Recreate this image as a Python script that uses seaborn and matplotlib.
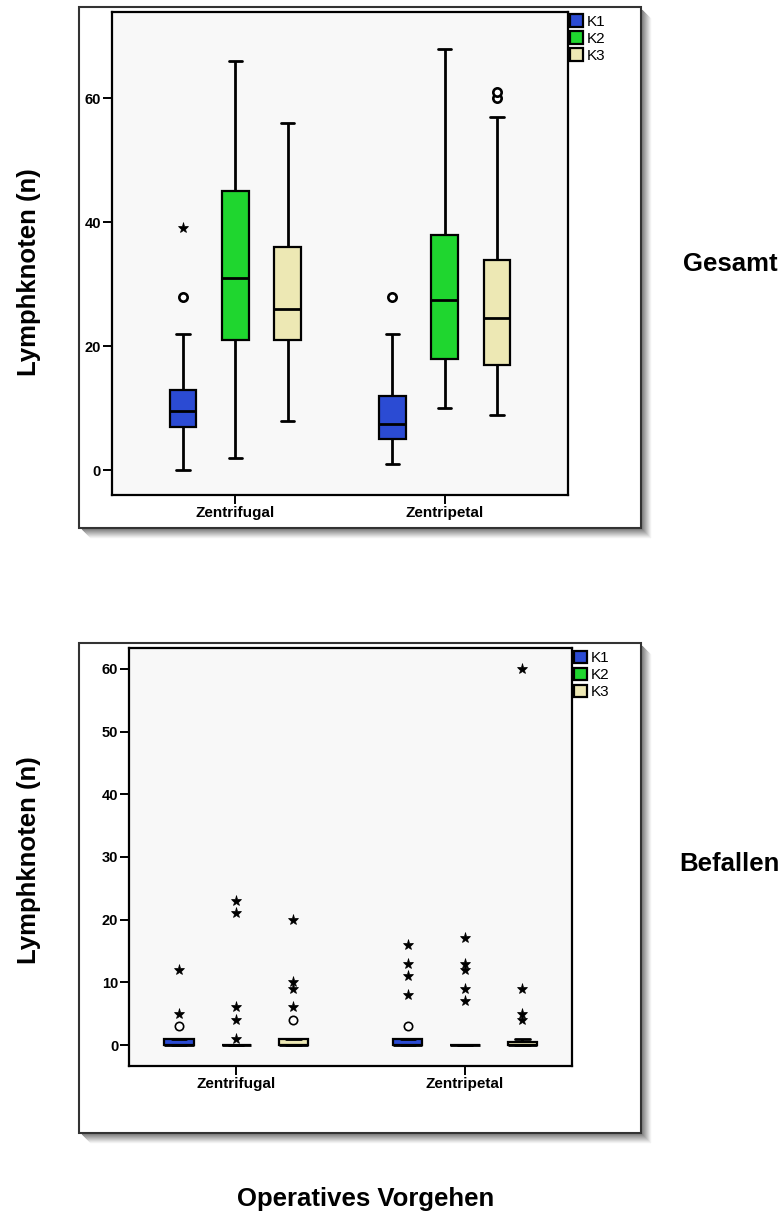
import numpy as np
import pandas as pd
import seaborn as sns
import matplotlib.pyplot as plt
from matplotlib.lines import Line2D
from matplotlib.patches import Rectangle

# -----------------------------------------------------------------------------
# Daten (Reihenfolge: Zentrifugal K1, K2, K3, Zentripetal K1, K2, K3)
# -----------------------------------------------------------------------------
gruppen = ['Zentrifugal', 'Zentripetal']
klassen = ['K1', 'K2', 'K3']
farben = ['#2b4bd3', '#1fd62f', '#ede8b4']

# Gesamt: Minimum, Q1, Median, Q3, Maximum (Whisker-Enden)
ges_min = [0, 2, 8, 1, 10, 9]
ges_q1 = [7, 21, 21, 5, 18, 17]
ges_med = [9.5, 31, 26, 7.5, 27.5, 24.5]
ges_q3 = [13, 45, 36, 12, 38, 34]
ges_max = [22, 66, 56, 22, 68, 57]
ges_kreis = [('Zentrifugal', 'K1', 28), ('Zentripetal', 'K1', 28),
             ('Zentripetal', 'K3', 60), ('Zentripetal', 'K3', 61)]
ges_stern = [('Zentrifugal', 'K1', 39)]

# Befallen
bef_min = [0, 0, 0, 0, 0, 0]
bef_q1 = [0, 0, 0, 0, 0, 0]
bef_med = [0, 0, 0, 0, 0, 0]
bef_q3 = [1, 0, 1, 1, 0, 0.5]
bef_max = [1, 0, 1, 1, 0, 1]
bef_kreis = [('Zentrifugal', 'K1', 3), ('Zentrifugal', 'K3', 4),
             ('Zentripetal', 'K1', 3)]
bef_stern = [('Zentrifugal', 'K1', 5), ('Zentrifugal', 'K1', 12),
             ('Zentrifugal', 'K2', 1), ('Zentrifugal', 'K2', 4), ('Zentrifugal', 'K2', 6),
             ('Zentrifugal', 'K2', 21), ('Zentrifugal', 'K2', 23),
             ('Zentrifugal', 'K3', 6), ('Zentrifugal', 'K3', 9), ('Zentrifugal', 'K3', 10),
             ('Zentrifugal', 'K3', 20),
             ('Zentripetal', 'K1', 8), ('Zentripetal', 'K1', 11), ('Zentripetal', 'K1', 13),
             ('Zentripetal', 'K1', 16),
             ('Zentripetal', 'K2', 7), ('Zentripetal', 'K2', 9), ('Zentripetal', 'K2', 12),
             ('Zentripetal', 'K2', 13), ('Zentripetal', 'K2', 17),
             ('Zentripetal', 'K3', 4), ('Zentripetal', 'K3', 5), ('Zentripetal', 'K3', 9),
             ('Zentripetal', 'K3', 60)]


def lange_tabelle(mins, q1s, meds, q3s, maxs):
    zeilen = []
    i = 0
    for g in gruppen:
        for k in klassen:
            for v in (mins[i], q1s[i], meds[i], q3s[i], maxs[i]):
                zeilen.append({'Gruppe': g, 'Klasse': k, 'Wert': v})
            i += 1
    return pd.DataFrame(zeilen)


# -----------------------------------------------------------------------------
# Stil
# -----------------------------------------------------------------------------
sns.set_theme(style='white')
plt.rcParams['font.family'] = ['Liberation Sans', 'DejaVu Sans']
plt.rcParams['font.weight'] = 'bold'
plt.rcParams['text.color'] = 'black'
plt.rcParams['axes.labelcolor'] = 'black'
plt.rcParams['xtick.color'] = 'black'
plt.rcParams['ytick.color'] = 'black'

W, H = 784, 1213
fig = plt.figure(figsize=(W / 100, H / 100), dpi=100)
fig.patch.set_facecolor('white')

BREITE = 0.75


def px_ax(x0, y0, x1, y1):
    return fig.add_axes([x0 / W, 1 - y1 / H, (x1 - x0) / W, (y1 - y0) / H])


def rahmen(x0, y0, x1, y1):
    # Schatten rechts und unten
    for i in range(1, 10):
        c = str(0.45 + 0.055 * i)
        fig.add_artist(Line2D([(x1 + i) / W] * 2, [1 - (y0 + i + 2) / H, 1 - (y1 + i) / H],
                              transform=fig.transFigure, color=c, lw=1.0, zorder=0))
        fig.add_artist(Line2D([(x0 + i + 2) / W, (x1 + i) / W], [1 - (y1 + i) / H] * 2,
                              transform=fig.transFigure, color=c, lw=1.0, zorder=0))
    fig.add_artist(Rectangle((x0 / W, 1 - y1 / H), (x1 - x0) / W, (y1 - y0) / H,
                             transform=fig.transFigure, fill=False, ec='#333333', lw=1.5))


def panel(ax, df, kreise, sterne, ylim, xlim, yticks, kreis_lw):
    sns.boxplot(data=df, x='Gruppe', y='Wert', hue='Klasse', order=gruppen,
                hue_order=klassen, palette=farben, saturation=1, width=BREITE, gap=0.49,
                whis=(0, 100), showfliers=False, linewidth=1.6, linecolor='black',
                whiskerprops={'linewidth': 2.0}, capprops={'linewidth': 2.0},
                medianprops={'linewidth': 2.0}, ax=ax)
    schritt = BREITE / len(klassen)
    for g, k, v in kreise:
        x = gruppen.index(g) + (klassen.index(k) - 1) * schritt
        ax.plot(x, v, marker='o', ms=6, mfc='white', mec='black', mew=kreis_lw,
                ls='none', zorder=5)
    for g, k, v in sterne:
        x = gruppen.index(g) + (klassen.index(k) - 1) * schritt
        ax.plot(x, v, marker='*', ms=8, mfc='black', mec='black', mew=0.5,
                ls='none', zorder=5)
    ax.set_facecolor('#f8f8f8')
    ax.set_xlim(*xlim)
    ax.set_ylim(*ylim)
    ax.set_yticks(yticks)
    ax.set_xlabel('')
    ax.set_ylabel('')
    for s in ax.spines.values():
        s.set_color('black')
        s.set_linewidth(1.6)
    ax.tick_params(axis='both', direction='out', length=6.5, width=1.4,
                   color='black', labelcolor='black', labelsize=10.5, pad=1.5,
                   left=True, bottom=True)
    ax.tick_params(axis='x', labelsize=11)
    for t in ax.get_xticklabels() + ax.get_yticklabels():
        t.set_fontweight('bold')
    sns.move_legend(ax, 'upper left', bbox_to_anchor=(1.0, 1.0), frameon=False,
                    title=None, borderaxespad=0, borderpad=0.15, handlelength=0.82,
                    handleheight=0.92, handletextpad=0.25, labelspacing=0.15,
                    prop={'weight': 'normal', 'size': 11})


# -----------------------------------------------------------------------------
# Oberes Panel: Gesamt
# -----------------------------------------------------------------------------
rahmen(79, 7, 641, 528)
ax1 = px_ax(112, 12, 568, 494.8)
panel(ax1, lange_tabelle(ges_min, ges_q1, ges_med, ges_q3, ges_max),
      ges_kreis, ges_stern, (-3.93, 73.9), (-0.59, 1.589), [0, 20, 40, 60], 1.9)

# -----------------------------------------------------------------------------
# Unteres Panel: Befallen
# -----------------------------------------------------------------------------
rahmen(79, 643, 641, 1133)
ax2 = px_ax(129.3, 648.3, 572.1, 1066)
panel(ax2, lange_tabelle(bef_min, bef_q1, bef_med, bef_q3, bef_max),
      bef_kreis, bef_stern, (-3.35, 63.3), (-0.467, 1.468), [0, 10, 20, 30, 40, 50, 60], 1.2)

# Beschriftungen
gross = 18.5
fig.text(29.5 / W, 1 - 272 / H, 'Lymphknoten (n)', rotation=90, ha='center', va='center',
         fontsize=gross, fontweight='bold')
fig.text(29.5 / W, 1 - 860 / H, 'Lymphknoten (n)', rotation=90, ha='center', va='center',
         fontsize=gross, fontweight='bold')
fig.text(683 / W, 1 - 271 / H, 'Gesamt', ha='left', va='baseline',
         fontsize=gross, fontweight='bold')
fig.text(780 / W, 1 - 871 / H, 'Befallen', ha='right', va='baseline',
         fontsize=gross, fontweight='bold')
fig.text(365.5 / W, 1 - 1206 / H, 'Operatives Vorgehen', ha='center', va='baseline',
         fontsize=gross, fontweight='bold')

fig.savefig('out.png', dpi=100)
